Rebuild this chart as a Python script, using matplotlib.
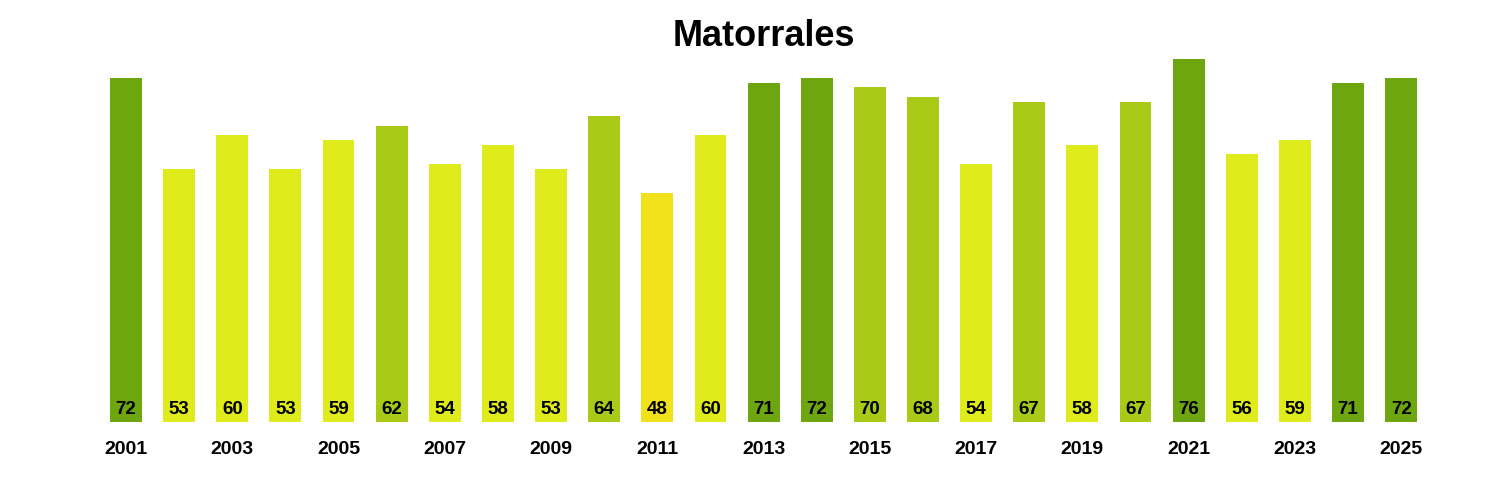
import matplotlib.pyplot as plt
import numpy as np

plt.rcParams['font.family'] = ['Liberation Sans', 'DejaVu Sans']

years = list(range(2001, 2026))
values = [72, 53, 60, 53, 59, 62, 54, 58, 53, 64, 48, 60, 71, 72, 70, 68, 54, 67, 58, 67, 76, 56, 59, 71, 72]


def bar_color(v):
    if v >= 71:
        return '#6EA60F'
    if v >= 62:
        return '#A9CA16'
    if v >= 53:
        return '#E0EB1C'
    return '#F0E11A'


colors = [bar_color(v) for v in values]
x = np.arange(len(years))

fig = plt.figure(figsize=(15, 5), dpi=100)
ax = fig.add_axes([0.0663, 0.156, 0.8855, 0.765])
ax.bar(x, values, width=0.6, color=colors)

for xi, v in zip(x, values):
    ax.text(xi, 2.7, str(v), ha='center', va='center', fontsize=13.5, fontweight='bold')

ax.set_xlim(-0.5, len(years) - 0.5)
ax.set_ylim(0, 80)
ax.set_xticks(x[::2])
ax.set_xticklabels([str(y) for y in years[::2]], fontsize=14, fontweight='bold')
ax.tick_params(axis='x', length=0, pad=14)
ax.set_yticks([])
for s in ax.spines.values():
    s.set_visible(False)

fig.text(0.509, 0.928, 'Matorrales', ha='center', va='center', fontsize=26, fontweight='bold')

fig.savefig('out.png', dpi=100, facecolor='white')
